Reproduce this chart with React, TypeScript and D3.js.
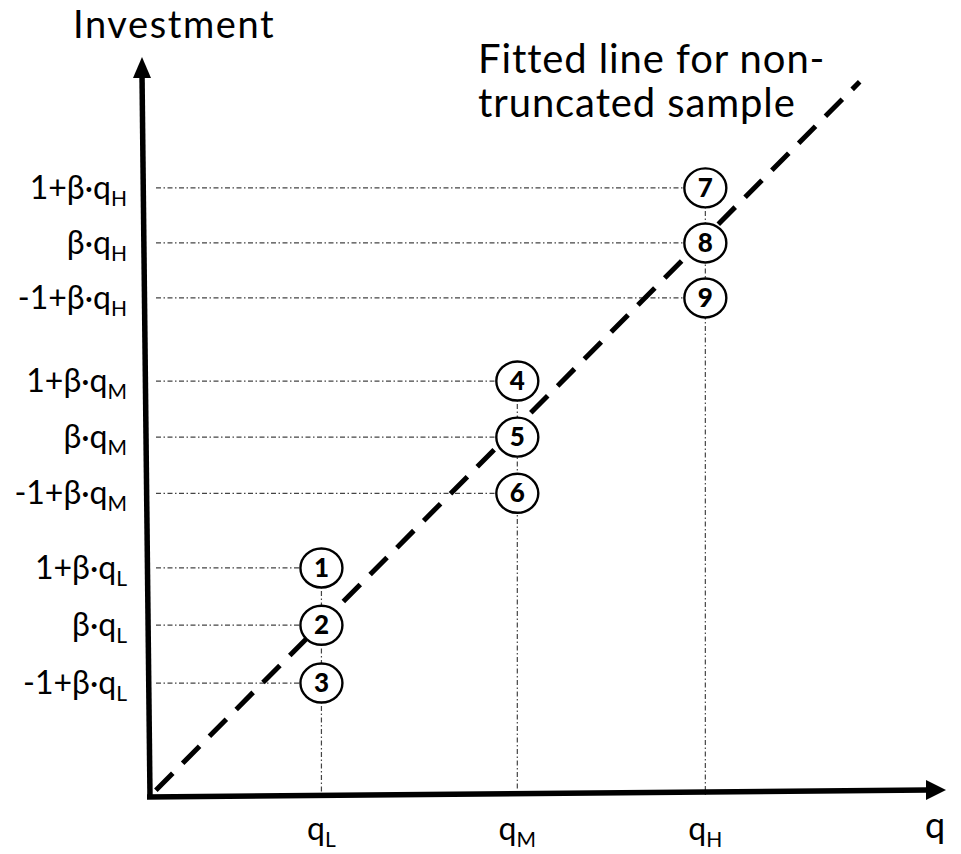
import React from "react";
import * as d3 from "d3";

// ---- data ----
const qSubscripts = ["L", "M", "H"];
const qTickValues = [3.09, 6.58, 9.93];
const pointLabels = ["1", "2", "3", "4", "5", "6", "7", "8", "9"];
const pointQIndex = [0, 0, 0, 1, 1, 1, 2, 2, 2];
const pointInvestment = [4.08, 3.06, 2.03, 7.41, 6.41, 5.41, 10.85, 9.87, 8.89];
const yTickPrefixes = ["1+β·q", "β·q", "-1+β·q"];
const fittedLineQ = [0.14, 12.68];
const fittedLineInv = [0.12, 12.74];
const xAxisTitle = "q";
const yAxisTitle = "Investment";
const annotationLines = ["Fitted line for non-", "truncated sample"];

const W = 961;
const H = 854;
const FONT = "Lato, 'Open Sans', sans-serif";

export default function App() {
  const x = d3.scaleLinear().domain([0, 14.2]).range([148, 945]);
  const y = d3.scaleLinear().domain([0, 13.2]).range([797, 56]);

  const points = pointLabels.map((label, i) => ({
    label,
    q: qTickValues[pointQIndex[i]],
    inv: pointInvestment[i],
    sub: qSubscripts[pointQIndex[i]],
    prefix: yTickPrefixes[i % 3],
  }));

  const line = d3
    .line<[number, number]>()
    .x((d) => x(d[0]))
    .y((d) => y(d[1]));
  const fitted = line(fittedLineQ.map((q, i) => [q, fittedLineInv[i]] as [number, number]));

  const rx = 21;
  const ry = 19.5;
  const guide = { stroke: "#444", strokeWidth: 1.2, strokeDasharray: "5,2.5,1.5,2.5", fill: "none" };

  return (
    <svg width={W} height={H} style={{ position: "absolute", left: 0, top: 0, background: "#fff" }}>
      <rect x={0} y={0} width={W} height={H} fill="#fff" />
      {/* horizontal guide lines */}
      {points.map((p, i) => (
        <line key={"h" + i} x1={156} x2={x(p.q) - rx} y1={y(p.inv)} y2={y(p.inv)} {...guide} />
      ))}
      {/* vertical guide lines */}
      {qTickValues.map((q, k) => {
        const top = d3.max(points.filter((p) => p.q === q), (p) => p.inv) as number;
        return <line key={"v" + k} x1={x(q)} x2={x(q)} y1={y(top)} y2={y(0) - 2} {...guide} />;
      })}
      {/* fitted dashed line */}
      <path d={fitted || ""} stroke="#000" strokeWidth={5} strokeDasharray="24,14" fill="none" />
      {/* axes */}
      <line x1={150} y1={797} x2={142} y2={74} stroke="#000" strokeWidth={5.5} />
      <path d="M142,57 L133,78 L151,78 Z" fill="#000" />
      <line x1={147} y1={797} x2={928} y2={790} stroke="#000" strokeWidth={5.5} />
      <path d="M946,790 L926,780 L926,800 Z" fill="#000" />
      {/* circles */}
      {points.map((p, i) => (
        <g key={"c" + i}>
          <ellipse cx={x(p.q)} cy={y(p.inv)} rx={rx} ry={ry} fill="#fff" stroke="#000" strokeWidth={2.4} />
          <text
            x={x(p.q)}
            y={y(p.inv) + 9}
            textAnchor="middle"
            fontFamily={FONT}
            fontWeight={900}
            fontSize={26}
            fill="#000"
          >
            {p.label}
          </text>
        </g>
      ))}
      {/* y tick labels */}
      {points.map((p, i) => (
        <text key={"yt" + i} x={127} y={y(p.inv) + 11} textAnchor="end" fontFamily={FONT} fontSize={32} fill="#000">
          {p.prefix}
          <tspan fontSize={21} dy={7}>
            {p.sub}
          </tspan>
        </text>
      ))}
      {/* x tick labels */}
      {qTickValues.map((q, k) => (
        <text key={"xt" + k} x={x(q)} y={840} textAnchor="middle" fontFamily={FONT} fontSize={32} fill="#000">
          q
          <tspan fontSize={21} dy={7}>
            {qSubscripts[k]}
          </tspan>
        </text>
      ))}
      {/* axis titles */}
      <text x={935} y={838} textAnchor="middle" fontFamily={FONT} fontSize={36} fill="#000">
        {xAxisTitle}
      </text>
      <text x={73} y={38} fontFamily={FONT} fontSize={38} letterSpacing={1.6} fill="#000">
        {yAxisTitle}
      </text>
      {/* annotation */}
      {annotationLines.map((t, i) => (
        <text key={"a" + i} x={478} y={73 + i * 44} fontFamily={FONT} fontSize={40} letterSpacing={0.9} fill="#000">
          {t}
        </text>
      ))}
    </svg>
  );
}
